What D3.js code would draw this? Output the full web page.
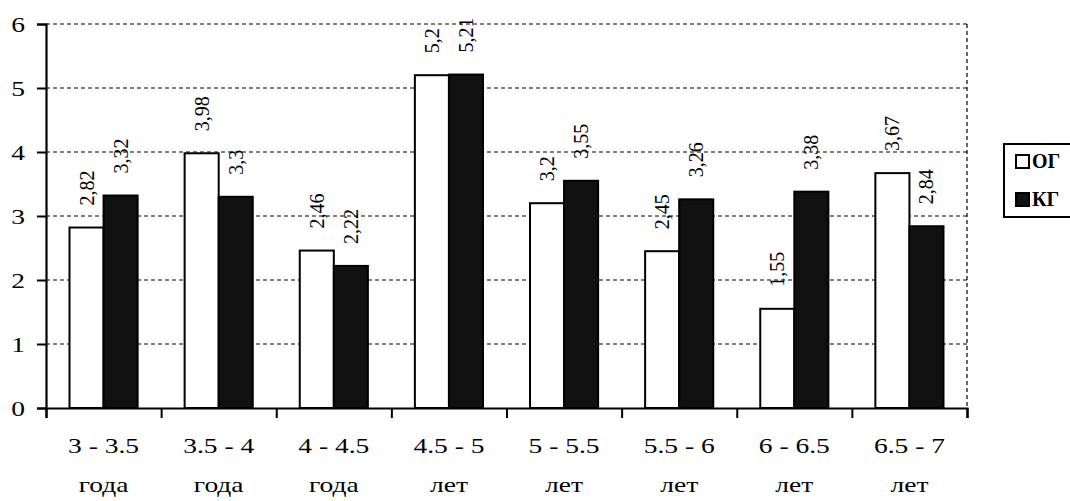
<!DOCTYPE html>
<html>
<head>
<meta charset="utf-8">
<script src="https://cdn.jsdelivr.net/npm/d3@7"></script>
<style>
  body { margin: 0; background: #fff; }
  svg { display: block; }
  svg text { font-family: "Times New Roman", "Liberation Serif", Tinos, "DejaVu Serif", serif; fill: #000; }
</style>
</head>
<body>
<div id="chart"></div>
<script>
// chart data
var ageGroups = ["3 - 3.5", "3.5 - 4", "4 - 4.5", "4.5 - 5", "5 - 5.5", "5.5 - 6", "6 - 6.5", "6.5 - 7"];
var ageUnits = ["года", "года", "года", "лет", "лет", "лет", "лет", "лет"];
var seriesNames = ["ОГ", "КГ"];
var ogValues = [2.82, 3.98, 2.46, 5.2, 3.2, 2.45, 1.55, 3.67];
var kgValues = [3.32, 3.3, 2.22, 5.21, 3.55, 3.26, 3.38, 2.84];
var yTicks = [0, 1, 2, 3, 4, 5, 6];

var svgWidth = 1070;
var svgHeight = 501;
var plot = { left: 46, right: 967, top: 24, bottom: 408 };
var stretch = 1.25; // the scan is a little wider than tall
var serif = "'Times New Roman', 'Liberation Serif', Tinos, 'DejaVu Serif', serif";

var svg = d3.select("#chart")
  .append("svg")
  .attr("width", svgWidth)
  .attr("height", svgHeight)
  .attr("font-family", serif);

var y = d3.scaleLinear().domain([0, 6]).range([plot.bottom, plot.top]);

var x0 = d3.scaleBand()
  .domain(ageGroups)
  .range([plot.left, plot.right])
  .padding(0);

var x1 = d3.scaleBand()
  .domain(seriesNames)
  .range([0, x0.bandwidth()])
  .paddingInner(0)
  .paddingOuter(0.69);

var xEdges = d3.scaleLinear().domain([0, ageGroups.length]).range([plot.left, plot.right]);

var color = { "ОГ": "#fff", "КГ": "#111" };

// dashed grid
svg.append("g")
  .selectAll("line")
  .data(yTicks.filter(d => d > 0))
  .join("line")
  .attr("x1", plot.left)
  .attr("x2", plot.right)
  .attr("y1", d => y(d))
  .attr("y2", d => y(d))
  .attr("stroke", "#000")
  .attr("stroke-width", 1.2)
  .attr("stroke-dasharray", "4,3");

svg.append("line")
  .attr("x1", plot.right)
  .attr("x2", plot.right)
  .attr("y1", plot.top)
  .attr("y2", plot.bottom)
  .attr("stroke", "#000")
  .attr("stroke-width", 1.2)
  .attr("stroke-dasharray", "4,3");

// bars
var rows = ageGroups.map(function(g, i) {
  return { group: g, values: [
    { key: "ОГ", value: ogValues[i] },
    { key: "КГ", value: kgValues[i] }
  ] };
});

var groups = svg.append("g")
  .selectAll("g")
  .data(rows)
  .join("g")
  .attr("transform", d => `translate(${x0(d.group)},0)`);

groups.selectAll("rect")
  .data(d => d.values)
  .join("rect")
  .attr("x", d => x1(d.key))
  .attr("y", d => y(d.value))
  .attr("width", x1.bandwidth())
  .attr("height", d => y(0) - y(d.value))
  .attr("fill", d => color[d.key])
  .attr("stroke", "#000")
  .attr("stroke-width", 2);

// value labels, rotated
groups.selectAll("text")
  .data(d => d.values)
  .join("text")
  .attr("transform", d => `translate(${x1(d.key) + x1.bandwidth() / 2},${y(d.value) - 22}) rotate(-90)`)
  .attr("dy", "0.35em")
  .attr("text-anchor", "start")
  .style("font-size", "20px")
  .text(d => String(d.value).replace(".", ","));

// y axis
var yAxis = svg.append("g")
  .attr("transform", `translate(${plot.left},0)`)
  .call(d3.axisLeft(y).tickValues(yTicks).tickSize(9).tickPadding(0).tickFormat(d3.format("d")));

yAxis.attr("font-family", serif);
yAxis.select(".domain").attr("stroke-width", 2.2);
yAxis.selectAll(".tick line").attr("stroke-width", 2);
yAxis.selectAll(".tick text")
  .attr("x", null)
  .attr("transform", `translate(-21,0) scale(${stretch},1)`)
  .style("font-size", "22px");

// x axis with ticks at category edges
var xAxis = svg.append("g")
  .attr("transform", `translate(0,${plot.bottom})`)
  .call(d3.axisBottom(xEdges).tickValues(d3.range(ageGroups.length + 1)).tickSize(10).tickFormat(""));

xAxis.select(".domain").attr("stroke-width", 2.2);
xAxis.selectAll(".tick line").attr("stroke-width", 2);

// category labels
var catLabels = svg.append("g")
  .selectAll("g")
  .data(ageGroups)
  .join("g")
  .attr("transform", d => `translate(${x0(d) + x0.bandwidth() / 2},0)`);

catLabels.append("text")
  .attr("transform", `translate(0,453) scale(${stretch},1)`)
  .attr("text-anchor", "middle")
  .style("font-size", "22px")
  .text(d => d);

catLabels.append("text")
  .attr("transform", `translate(0,492) scale(${stretch},1)`)
  .attr("text-anchor", "middle")
  .style("font-size", "22px")
  .text((d, i) => ageUnits[i]);

// legend
var legend = svg.append("g")
  .attr("transform", "translate(1004,144)");

legend.append("rect")
  .attr("width", 90)
  .attr("height", 73)
  .attr("fill", "#fff")
  .attr("stroke", "#000")
  .attr("stroke-width", 2);

var legendItems = legend.selectAll(".item")
  .data(seriesNames)
  .join("g")
  .attr("class", "item")
  .attr("transform", (d, i) => `translate(12,${17 + i * 38})`);

legendItems.append("rect")
  .attr("x", 0)
  .attr("y", -6)
  .attr("width", 13)
  .attr("height", 13)
  .attr("fill", d => color[d])
  .attr("stroke", "#000")
  .attr("stroke-width", 2);

legendItems.append("text")
  .attr("x", 16)
  .attr("dy", "0.36em")
  .style("font-size", "20px")
  .style("font-weight", "bold")
  .text(d => d);
</script>
</body>
</html>
